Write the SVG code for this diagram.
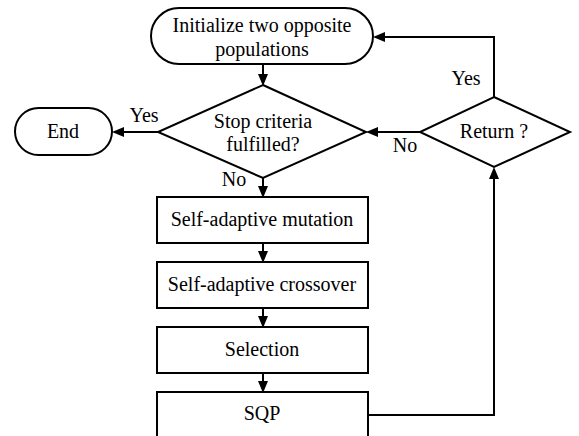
<svg xmlns="http://www.w3.org/2000/svg" width="579" height="436" viewBox="0 0 579 436">
<style>
.s{fill:#fff;stroke:#000;stroke-width:2}
.c{fill:none;stroke:#000;stroke-width:2}
text{font-family:'Liberation Serif','Times New Roman',Times,serif;font-size:20px;text-anchor:middle;fill:#000}
</style>
<rect width="579" height="436" fill="#fff"/>
<g id="connectors">
<line class="c" x1="263" y1="64" x2="263" y2="75"/>
<polygon points="258,74 268,74 263,86"/>
<line class="c" x1="158" y1="132" x2="123" y2="132"/>
<polygon points="124,127 124,137 112,132"/>
<line class="c" x1="263" y1="178" x2="263" y2="187"/>
<polygon points="258,186 268,186 263,198"/>
<line class="c" x1="263" y1="243" x2="263" y2="252"/>
<polygon points="258,251 268,251 263,263"/>
<line class="c" x1="263" y1="308" x2="263" y2="317"/>
<polygon points="258,316 268,316 263,328"/>
<line class="c" x1="263" y1="373" x2="263" y2="382"/>
<polygon points="258,381 268,381 263,393"/>
<polyline class="c" points="368,415 494,415 494,178"/>
<polygon points="489,179 499,179 494,167"/>
<line class="c" x1="420" y1="132" x2="377" y2="132"/>
<polygon points="378,127 378,137 366,132"/>
<polyline class="c" points="494,97 494,37 384,37"/>
<polygon points="385,32 385,42 373,37"/>
<text style="font-family:'Liberation Serif',serif" x="144" y="122">Yes</text>
<text style="font-family:'Liberation Serif',serif" x="234" y="186">No</text>
<text style="font-family:'Liberation Serif',serif" x="405" y="152">No</text>
<text style="font-family:'Liberation Serif',serif" x="466" y="85">Yes</text>
</g>
<g id="init">
<rect class="s" x="151" y="8" width="222" height="56" rx="28"/>
<text style="font-family:'Liberation Serif',serif" x="262" y="32">Initialize two opposite</text>
<text style="font-family:'Liberation Serif',serif" x="262" y="56">populations</text>
</g>
<g id="stop">
<polygon class="s" points="263,85 366,132 263,178 158,132"/>
<text style="font-family:'Liberation Serif',serif" x="263" y="128">Stop criteria</text>
<text style="font-family:'Liberation Serif',serif" x="263" y="151">fulfilled?</text>
</g>
<g id="end">
<rect class="s" x="15" y="108" width="97" height="47" rx="23.5"/>
<text style="font-family:'Liberation Serif',serif" x="63" y="138">End</text>
</g>
<g id="mutation">
<rect class="s" x="157" y="197" width="211" height="46"/>
<text style="font-family:'Liberation Serif',serif" x="262" y="226">Self-adaptive mutation</text>
</g>
<g id="crossover">
<rect class="s" x="157" y="262" width="211" height="46"/>
<text style="font-family:'Liberation Serif',serif" x="262" y="291">Self-adaptive crossover</text>
</g>
<g id="selection">
<rect class="s" x="157" y="327" width="211" height="46"/>
<text style="font-family:'Liberation Serif',serif" x="262" y="356">Selection</text>
</g>
<g id="sqp">
<rect class="s" x="157" y="392" width="211" height="60"/>
<text style="font-family:'Liberation Serif',serif" x="262" y="420">SQP</text>
</g>
<g id="return">
<polygon class="s" points="494,97 570,132 494,167 420,132"/>
<text style="font-family:'Liberation Serif',serif" x="494" y="138">Return ?</text>
</g>
</svg>
